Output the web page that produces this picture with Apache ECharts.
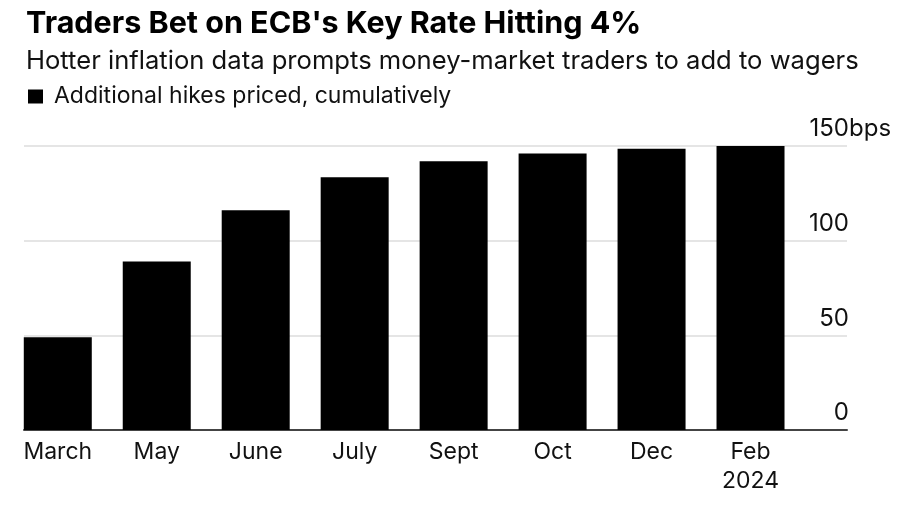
<!DOCTYPE html>
<html><head><meta charset="utf-8">
<script src="https://cdn.jsdelivr.net/npm/echarts@6/dist/echarts.min.js"></script>
<style>html,body{margin:0;padding:0;background:#fff}#c{width:900px;height:510px}</style>
</head><body><div id="c"></div>
<script>
const categories = ['March', 'May', 'June', 'July', 'Sept', 'Oct', 'Dec', 'Feb\n2024'];
const hikes = [49, 89, 116, 133.5, 142, 146, 148.5, 150];
const yMin = 0, yMax = 150, yStep = 50;
const unit = 'bps';
const seriesName = 'Additional hikes priced, cumulatively';
const titleText = "Traders Bet on ECB's Key Rate Hitting 4%";
const subtitleText = 'Hotter inflation data prompts money-market traders to add to wagers';

const FONT = 'Inter';
const chart = echarts.init(document.getElementById('c'), null, {renderer: 'canvas'});
chart.setOption({
  backgroundColor: '#fff',
  animation: false,
  textStyle: {fontFamily: FONT},
  title: [
    {text: titleText, left: 21, top: 2, textStyle: {fontFamily: FONT, fontSize: 30.5, fontWeight: 'bold', color: '#000', lineHeight: 34}},
    {text: subtitleText, left: 21, top: 41, textStyle: {fontFamily: FONT, fontSize: 25.6, fontWeight: 'normal', color: '#111', lineHeight: 30}}
  ],
  legend: {
    left: 28, top: 85, padding: 0,
    icon: 'rect', itemWidth: 15, itemHeight: 14,
    textStyle: {fontFamily: FONT, fontSize: 23, color: '#111', padding: [0, 0, 0, 6]},
    data: [seriesName]
  },
  grid: [
    {left: 8.3, right: 100, top: 146, bottom: 80},
    {left: 24, right: 53, top: 146, bottom: 80}
  ],
  xAxis: [
    {type: 'category', gridIndex: 0, data: categories,
     axisLine: {show: false}, axisTick: {show: false}, splitLine: {show: false},
     axisLabel: {color: '#111', fontFamily: FONT, fontSize: 23, lineHeight: 29, margin: 8}},
    {type: 'value', gridIndex: 1, min: 0, max: 1, show: true,
     axisLine: {show: true, lineStyle: {color: '#444', width: 2}},
     axisTick: {show: false}, axisLabel: {show: false}, splitLine: {show: false}}
  ],
  yAxis: [
    {type: 'value', gridIndex: 0, min: yMin, max: yMax, show: false},
    {type: 'value', gridIndex: 1, position: 'right', min: yMin, max: yMax, interval: yStep,
     axisLine: {show: false}, axisTick: {show: false},
     splitLine: {show: true, lineStyle: {color: '#dcdcdc', width: 1.5}},
     axisLabel: {inside: true, margin: -2, color: '#111', fontFamily: FONT, fontSize: 24,
                 verticalAlign: 'bottom', padding: [0, 0, 5, 0],
                 formatter: function (v) { return v === yMax ? '{n|' + v + '}{u|' + unit + '}' : '' + v; },
                 rich: {n: {fontFamily: FONT, fontSize: 24, color: '#111', align: 'left'},
                        u: {fontFamily: FONT, fontSize: 24, color: '#111', width: 0, align: 'left'}}}}
  ],
  series: [
    {type: 'bar', name: seriesName, xAxisIndex: 0, yAxisIndex: 0, data: hikes,
     barWidth: 68, itemStyle: {color: '#000'}}
  ]
});
</script></body></html>
